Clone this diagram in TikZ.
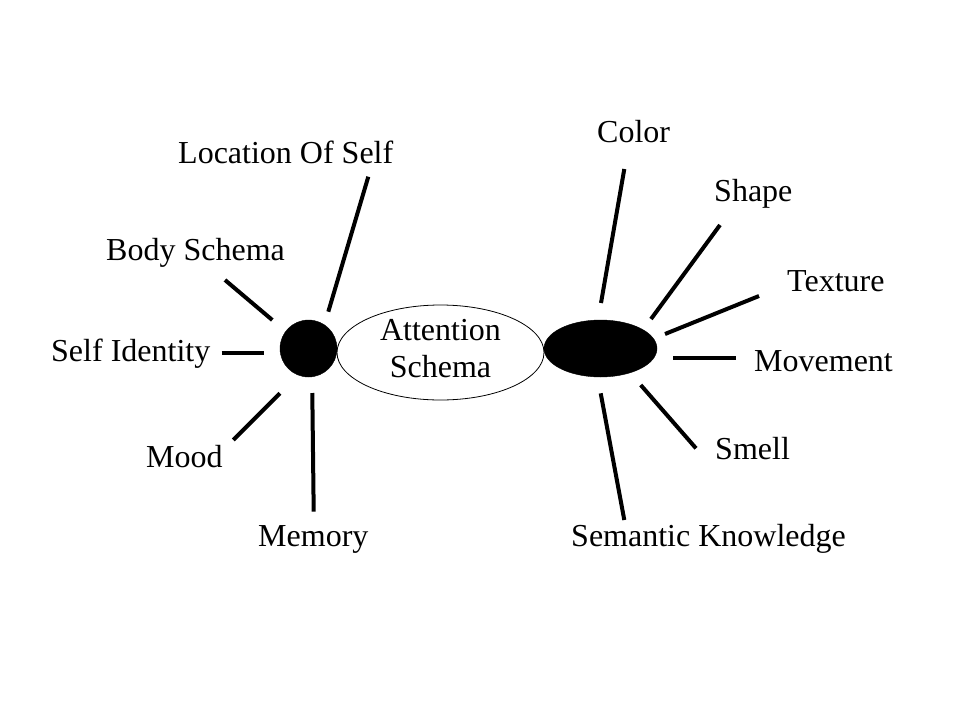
\documentclass[tikz,border=0pt]{standalone}
\usepackage{fontspec}
\setmainfont{Liberation Serif}
\usetikzlibrary{shapes.geometric}
\begin{document}
\begin{tikzpicture}[x=1pt,y=-1pt,
  lbl/.style={anchor=base west,inner sep=0pt,font=\fontsize{32}{38}\selectfont},
  spoke/.style={line width=4pt},
  blob/.style={fill=black,draw=black}]
\useasboundingbox (0,0) rectangle (960,720);
% central shapes
\node[blob,circle,minimum size=57pt,inner sep=0pt] (self) at (308.5,348.5) {};
\node[draw=black,line width=0.8pt,ellipse,minimum width=207pt,minimum height=95pt,inner sep=0pt] (att) at (440.5,352.5) {};
\node[blob,ellipse,minimum width=113pt,minimum height=57pt,inner sep=0pt] (obj) at (600.5,348.5) {};
\node[anchor=base,inner sep=0pt,font=\fontsize{32}{38}\selectfont] (att1) at (440.5,340) {Attention};
\node[anchor=base,inner sep=0pt,font=\fontsize{32}{38}\selectfont] (att2) at (440.5,377) {Schema};
% labels
\node[lbl] (loc) at (178,163.3) {Location Of Self};
\node[lbl] (body) at (106,260) {Body Schema};
\node[lbl] (ident) at (51,361.7) {Self Identity};
\node[lbl] (mood) at (146,467) {Mood};
\node[lbl] (mem) at (258,546.7) {Memory};
\node[lbl] (color) at (597,142.7) {Color};
\node[lbl] (shape) at (714,201.7) {Shape};
\node[lbl] (text) at (787,291.7) {Texture};
\node[lbl] (move) at (754,371.7) {Movement};
\node[lbl] (smell) at (715,459) {Smell};
\node[lbl] (sem) at (571,546.7) {Semantic Knowledge};
% spoke end points
\coordinate (locA) at (368.3,176.7);  \coordinate (locB) at (328.3,311.7);
\coordinate (bodyA) at (225,280);     \coordinate (bodyB) at (272.3,320);
\coordinate (identA) at (221.7,353);  \coordinate (identB) at (264,353);
\coordinate (moodA) at (233.3,440);   \coordinate (moodB) at (280,393.3);
\coordinate (memA) at (313.7,511.7);  \coordinate (memB) at (312.3,393);
\coordinate (colorA) at (624.3,169);  \coordinate (colorB) at (601,303);
\coordinate (shapeA) at (720,225);    \coordinate (shapeB) at (651,319);
\coordinate (textA) at (759,296);     \coordinate (textB) at (665,334);
\coordinate (moveA) at (736,358);     \coordinate (moveB) at (673.3,358);
\coordinate (smellA) at (696,448.3);  \coordinate (smellB) at (640.7,385);
\coordinate (semA) at (624.3,520);    \coordinate (semB) at (600.7,393.3);
\foreach \s in {loc,body,ident,mood,mem,color,shape,text,move,smell,sem}
  \draw[spoke] (\s A) -- (\s B);
\end{tikzpicture}
\end{document}
